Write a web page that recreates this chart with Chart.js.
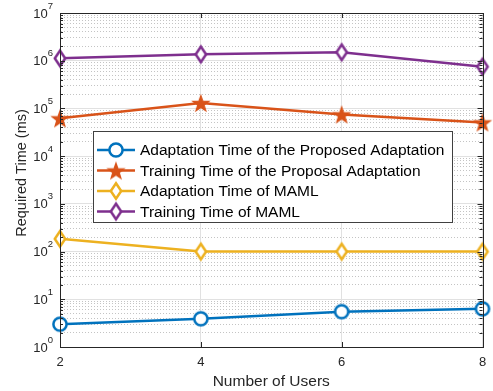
<!DOCTYPE html>
<html>
<head>
<meta charset="utf-8">
<script src="https://cdn.jsdelivr.net/npm/chart.js@4"></script>
<style>
  body { margin: 0; background: #fff; }
  #wrap { width: 493px; height: 391px; position: relative; }
</style>
</head>
<body>
<div id="wrap"><canvas id="chart"></canvas></div>
<script>
// values
const users = [2, 4, 6, 8];
const adaptProposed = [3.0, 3.9, 5.5, 6.3];
const trainProposed = [62000, 130000, 75000, 51000];
const adaptMaml = [185, 100, 100, 100];
const trainMaml = [1120000, 1360000, 1500000, 750000];
const seriesNames = [
    "Adaptation Time of the Proposed Adaptation",
    "Training Time of the Proposal Adaptation",
    "Adaptation Time of MAML",
    "Training Time of MAML"
];
const xTicks = [2, 4, 6, 8];
const yExponents = [0, 1, 2, 3, 4, 5, 6, 7];
const yTitle = "Required Time (ms)";
const xTitle = "Number of Users";

const blue = "#0072BD", orange = "#D95319", yellow = "#EDB120", purple = "#7E2F8E";
const axisColor = "#262626";
const font = "'Liberation Sans', Arial, sans-serif";

function starImage(color) {
    let c = document.createElement("canvas");
    c.width = 22; c.height = 22;
    let g = c.getContext("2d");
    g.beginPath();
    for (let i = 0; i < 10; i++) {
        let a = -Math.PI / 2 + i * Math.PI / 5;
        let r = i % 2 ? 3.4 : 8.4;
        g.lineTo(11 + r * Math.cos(a), 12 + r * Math.sin(a));
    }
    g.closePath();
    g.fillStyle = color;
    g.fill();
    g.strokeStyle = color;
    g.lineWidth = 1.2;
    g.stroke();
    return c;
}

function diamondImage(color) {
    let c = document.createElement("canvas");
    c.width = 18; c.height = 22;
    let g = c.getContext("2d");
    g.beginPath();
    g.moveTo(9, 3.3);
    g.lineTo(14.2, 11);
    g.lineTo(9, 18.7);
    g.lineTo(3.8, 11);
    g.closePath();
    g.fillStyle = "#fff";
    g.fill();
    g.strokeStyle = color;
    g.lineWidth = 2.5;
    g.stroke();
    return c;
}

function circleImage(color) {
    let c = document.createElement("canvas");
    c.width = 20; c.height = 20;
    let g = c.getContext("2d");
    g.beginPath();
    g.arc(10, 10, 6.6, 0, Math.PI * 2);
    g.fillStyle = "#fff";
    g.fill();
    g.strokeStyle = color;
    g.lineWidth = 2.5;
    g.stroke();
    return c;
}

function pts(values) {
    return users.map((u, i) => ({ x: u, y: values[i] }));
}

function isMajor(v) {
    let l = Math.log10(v);
    return Math.abs(l - Math.round(l)) < 1e-9;
}

const markers = [circleImage(blue), starImage(orange), diamondImage(yellow), diamondImage(purple)];
const colors = [blue, orange, yellow, purple];
const series = [adaptProposed, trainProposed, adaptMaml, trainMaml];

const datasets = series.map((s, i) => ({
    label: seriesNames[i],
    data: pts(s),
    borderColor: colors[i],
    backgroundColor: colors[i],
    borderWidth: 2.5,
    pointStyle: markers[i],
    pointRadius: 8,
    clip: false,
    tension: 0
}));

// MATLAB-like box, inner ticks, 10^n labels, y label and the legend
const matlabAxes = {
    id: "matlabAxes",
    afterDraw(chart) {
        let ctx = chart.ctx;
        let a = chart.chartArea;
        let xs = chart.scales.x, ys = chart.scales.y;
        ctx.save();
        ctx.strokeStyle = axisColor;
        ctx.lineWidth = 1;
        ctx.strokeRect(Math.round(a.left) + 0.5, Math.round(a.top) + 0.5,
            Math.round(a.right - a.left), Math.round(a.bottom - a.top));

        // y ticks on both sides
        ys.ticks.forEach(t => {
            let y = Math.round(ys.getPixelForValue(t.value)) + 0.5;
            let len = isMajor(t.value) ? 5 : 3;
            ctx.beginPath();
            ctx.moveTo(a.left, y); ctx.lineTo(a.left + len, y);
            ctx.moveTo(a.right, y); ctx.lineTo(a.right - len, y);
            ctx.stroke();
        });
        // x ticks top and bottom
        xTicks.forEach(v => {
            let x = Math.round(xs.getPixelForValue(v)) + 0.5;
            ctx.beginPath();
            ctx.moveTo(x, a.bottom); ctx.lineTo(x, a.bottom - 5);
            ctx.moveTo(x, a.top); ctx.lineTo(x, a.top + 5);
            ctx.stroke();
        });

        // 10^n labels
        ctx.fillStyle = axisColor;
        ctx.textBaseline = "middle";
        yExponents.forEach(e => {
            let y = ys.getPixelForValue(Math.pow(10, e));
            ctx.font = "9.5px " + font;
            ctx.textAlign = "left";
            let ew = ctx.measureText(String(e)).width;
            let xr = a.left - 7;
            ctx.fillText(String(e), xr - ew, y - 7);
            ctx.font = "13px " + font;
            ctx.textAlign = "right";
            ctx.fillText("10", xr - ew, y + 1);
        });

        // y axis label
        ctx.save();
        ctx.translate(22, 173);
        ctx.rotate(-Math.PI / 2);
        ctx.font = "14.5px " + font;
        ctx.textAlign = "center";
        ctx.fillText(yTitle, 0, 0);
        ctx.restore();

        // legend box
        let lx = 93, ly = 131, lw = 359, lh = 91;
        ctx.fillStyle = "#fff";
        ctx.fillRect(lx, ly, lw, lh);
        ctx.strokeStyle = "#404040";
        ctx.lineWidth = 1;
        ctx.strokeRect(lx + 0.5, ly + 0.5, lw, lh);
        ctx.font = "15.5px " + font;
        ctx.textAlign = "left";
        ctx.textBaseline = "middle";
        chart.data.datasets.forEach((ds, i) => {
            let cy = 150 + i * 20.5;
            ctx.strokeStyle = ds.borderColor;
            ctx.lineWidth = 2.5;
            ctx.beginPath();
            ctx.moveTo(97, cy); ctx.lineTo(135, cy);
            ctx.stroke();
            let img = ds.pointStyle;
            ctx.drawImage(img, 116 - img.width / 2, cy - img.height / 2);
            ctx.fillStyle = "#000";
            ctx.fillText(ds.label, 140, cy + 1);
        });
        ctx.restore();
    }
};

new Chart(document.getElementById("chart"), {
    type: "line",
    data: { datasets: datasets },
    options: {
        responsive: true,
        maintainAspectRatio: false,
        animation: false,
        events: [],
        layout: { padding: { left: 4, right: 8, top: 13, bottom: 0 } },
        plugins: {
            legend: { display: false },
            tooltip: { enabled: false }
        },
        scales: {
            x: {
                type: "linear",
                min: 2,
                max: 8,
                afterBuildTicks: scale => {
                    scale.ticks = xTicks.map(v => ({ value: v }));
                },
                afterFit: scale => {
                    scale.height = 44;
                    scale.paddingLeft = 0;
                    scale.paddingRight = 0;
                },
                ticks: {
                    color: axisColor,
                    padding: 8,
                    font: { family: font, size: 13 }
                },
                grid: { color: "#e1e1e1", drawTicks: false },
                border: { color: axisColor },
                title: {
                    display: true,
                    text: xTitle,
                    color: axisColor,
                    padding: { top: 2, bottom: 0 },
                    font: { family: font, size: 15.5 }
                }
            },
            y: {
                type: "logarithmic",
                min: 1,
                max: 1e7,
                afterBuildTicks: scale => {
                    let t = [];
                    for (let e = 0; e < 7; e++) {
                        for (let m = 1; m < 10; m++) t.push({ value: m * Math.pow(10, e) });
                    }
                    t.push({ value: 1e7 });
                    scale.ticks = t;
                },
                afterFit: scale => { scale.width = 56; },
                ticks: { display: false },
                grid: {
                    drawTicks: false,
                    color: c => isMajor(c.tick.value) ? "#e1e1e1" : "#c4c4c4"
                },
                border: {
                    color: axisColor,
                    dash: c => (c.tick && !isMajor(c.tick.value)) ? [1, 2] : []
                }
            }
        }
    },
    plugins: [matlabAxes]
});
</script>
</body>
</html>
